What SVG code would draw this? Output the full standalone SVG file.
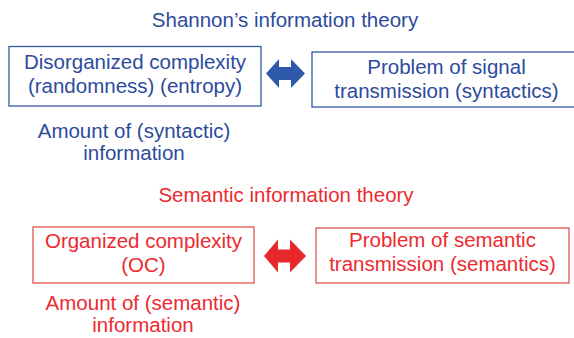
<svg xmlns="http://www.w3.org/2000/svg" width="574" height="338" viewBox="0 0 574 338">
<style>
text{font-family:"Liberation Sans",Arial,sans-serif;font-size:20.5px;text-anchor:middle}
.b{fill:#2d4b9c}
.r{fill:#ec2a2f}
.bb{fill:#fff;stroke:#3657a6;stroke-width:1.3}
.rb{fill:#fff;stroke:#e05353;stroke-width:1.3}
.ba{fill:#2e5aa9}
.ra{fill:#e8282b}
</style>
<rect width="574" height="338" fill="#fff"/>
<g id="title-shannon"><text class="b" x="285" y="27">Shannon’s information theory</text></g>
<g id="disorganized">
<rect class="bb" x="9" y="46.5" width="252" height="59.5"/>
<text class="b" x="135" y="68.5">Disorganized complexity</text>
<text class="b" x="135" y="93">(randomness) (entropy)</text>
</g>
<g id="signal">
<rect class="bb" x="312" y="52" width="270" height="55"/>
<text class="b" x="446.5" y="73.5">Problem of signal</text>
<text class="b" x="446.5" y="98">transmission (syntactics)</text>
</g>
<g id="syntactic-amount">
<text class="b" x="134" y="137.7">Amount of (syntactic)</text>
<text class="b" x="134" y="160">information</text>
</g>
<g id="title-semantic"><text class="r" x="286" y="202">Semantic information theory</text></g>
<g id="organized">
<rect class="rb" x="33" y="227" width="221" height="56"/>
<text class="r" x="143.5" y="248">Organized complexity</text>
<text class="r" x="143.5" y="272">(OC)</text>
</g>
<g id="semantic-problem">
<rect class="rb" x="316" y="228" width="253" height="55"/>
<text class="r" x="442.5" y="247">Problem of semantic</text>
<text class="r" x="442.5" y="271">transmission (semantics)</text>
</g>
<g id="semantic-amount">
<text class="r" x="143" y="310">Amount of (semantic)</text>
<text class="r" x="143" y="332">information</text>
</g>
<g id="connectors">
<polygon class="ba" points="266,73.5 279,59 279,67 291,67 291,59 305,73.5 291,88 291,80 279,80 279,88"/>
<polygon class="ra" points="264,256 278,239.5 278,249.5 290,249.5 290,239.5 306,256 290,272.5 290,262.5 278,262.5 278,272.5"/>
</g>
</svg>
